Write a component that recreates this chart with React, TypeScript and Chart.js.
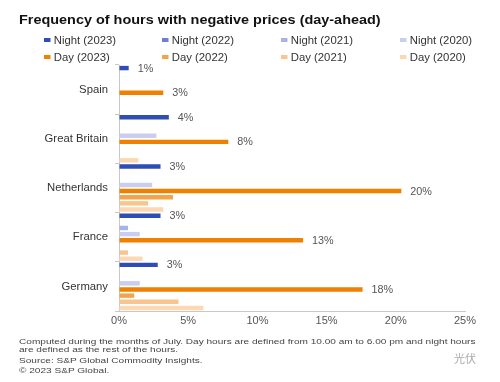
import React, { useEffect, useRef } from "react";
import { Chart, registerables } from "chart.js";

Chart.register(...registerables);

const categories = ["Spain", "Great Britain", "Netherlands", "France", "Germany"];
const seriesNames = [
  "Night (2023)",
  "Night (2022)",
  "Night (2021)",
  "Night (2020)",
  "Day (2023)",
  "Day (2022)",
  "Day (2021)",
  "Day (2020)",
];
const night2023 = [0.7, 3.6, 3.0, 3.0, 2.8];
const night2022 = [null, null, null, null, null];
const night2021 = [null, null, null, 0.65, null];
const night2020 = [null, 2.7, 2.4, 1.5, 1.5];
const day2023 = [3.2, 7.9, 20.4, 13.3, 17.6];
const day2022 = [null, null, 3.9, null, 1.1];
const day2021 = [null, null, 2.1, 0.65, 4.3];
const day2020 = [null, 1.4, 3.2, 1.7, 6.1];
const seriesValues = [night2023, night2022, night2021, night2020, day2023, day2022, day2021, day2020];
const seriesColors = ["#2f4eb5", "#6b80cf", "#a7b3e2", "#c9cdee", "#ef8000", "#f4a34a", "#f8c48f", "#fbd8b2"];
const labeledSeries = [0, 4];
const xMin = 0;
const xMax = 25;
const xStep = 5;

const titleText = "Frequency of hours with negative prices (day-ahead)";
const noteLines = [
  "Computed during the months of July. Day hours are defined from 10.00 am to 6.00 pm and night hours",
  "are defined as the rest of the hours.",
];
const sourceText = "Source: S&P Global Commodity Insights.";
const copyrightText = "© 2023 S&P Global.";
const watermarkText = "光伏";

const FONT = "'Liberation Sans', Arial, sans-serif";

const valueLabelPlugin = {
  id: "valueLabels",
  afterDatasetsDraw(chart: any) {
    const ctx = chart.ctx;
    ctx.save();
    ctx.font = `10.8px ${FONT}`;
    ctx.fillStyle = "#555";
    ctx.textAlign = "left";
    ctx.textBaseline = "middle";
    labeledSeries.forEach((di) => {
      const meta = chart.getDatasetMeta(di);
      const vals = seriesValues[di];
      meta.data.forEach((bar: any, j: number) => {
        const v = vals[j];
        if (v == null) return;
        ctx.fillText(Math.round(v) + "%", bar.x + 9, bar.y + 0.5);
      });
    });
    ctx.restore();
  },
};

export default function App() {
  const ref = useRef<HTMLCanvasElement | null>(null);

  useEffect(() => {
    if (!ref.current) return;
    const chart = new Chart(ref.current, {
      type: "bar",
      data: {
        labels: categories,
        datasets: seriesNames.map((name, i) => ({
          label: name,
          data: seriesValues[i] as any,
          backgroundColor: seriesColors[i],
          borderWidth: 0,
          categoryPercentage: 1.0,
          barPercentage: 0.72,
        })),
      },
      options: {
        indexAxis: "y",
        animation: false,
        responsive: false,
        maintainAspectRatio: false,
        layout: { padding: { top: 65, right: 35, left: 0, bottom: 0 } },
        plugins: {
          legend: { display: false },
          tooltip: { enabled: false },
          title: { display: false },
        },
        scales: {
          x: {
            min: xMin,
            max: xMax,
            ticks: {
              stepSize: xStep,
              callback: (v: any) => v + "%",
              color: "#555",
              font: { family: FONT, size: 11 },
              padding: 3,
            },
            grid: { display: true, drawOnChartArea: false, drawTicks: false, color: "#c8c8c8" },
            border: { display: true, color: "#c8c8c8", width: 1 },
            afterFit: (s: any) => {
              s.height = 71;
            },
          },
          y: {
            ticks: {
              color: "#333",
              font: { family: FONT, size: 11.3 },
              padding: 7,
            },
            grid: {
              display: true,
              drawOnChartArea: false,
              drawTicks: true,
              tickLength: 4,
              color: "#c8c8c8",
              offset: true,
            },
            border: { display: true, color: "#c8c8c8", width: 1 },
            afterFit: (s: any) => {
              s.width = 119;
            },
          },
        },
      },
      plugins: [valueLabelPlugin],
    });
    return () => chart.destroy();
  }, []);

  const legendCols = [44, 162, 281, 400];
  const legendRows = [40, 57];

  const stretch = (k: number): React.CSSProperties => ({
    transform: `scaleX(${k})`,
    transformOrigin: "left center",
  });

  const noteStyle: React.CSSProperties = {
    position: "absolute",
    left: 19,
    fontSize: 8,
    fontFamily: FONT,
    color: "#444",
    lineHeight: "9px",
    whiteSpace: "nowrap",
    ...stretch(1.26),
  };

  return (
    <div
      style={{
        position: "fixed",
        left: 0,
        top: 0,
        width: 500,
        height: 382,
        background: "#fff",
        fontFamily: FONT,
        overflow: "hidden",
      }}
    >
      <canvas ref={ref} width={500} height={382} style={{ position: "absolute", left: 0, top: 0 }} />
      <div
        style={{
          position: "absolute",
          left: 19,
          top: 12,
          fontSize: 13,
          fontWeight: "bold",
          fontFamily: FONT,
          color: "#111",
          whiteSpace: "nowrap",
          lineHeight: "16px",
          ...stretch(1.11),
        }}
      >
        {titleText}
      </div>
      {seriesNames.map((name, i) => (
        <div
          key={name}
          style={{
            position: "absolute",
            left: legendCols[i % 4],
            top: legendRows[Math.floor(i / 4)] - 7,
            height: 14,
            display: "flex",
            alignItems: "center",
            fontSize: 10.5,
            fontFamily: FONT,
            color: "#333",
            whiteSpace: "nowrap",
            ...stretch(1.08),
          }}
        >
          <span
            style={{
              display: "inline-block",
              width: 6,
              height: 4,
              background: seriesColors[i],
              marginRight: 3,
            }}
          />
          {name}
        </div>
      ))}
      <div style={{ ...noteStyle, top: 337 }}>
        <div>{noteLines[0]}</div>
        <div style={{ marginTop: -1 }}>{noteLines[1]}</div>
      </div>
      <div style={{ ...noteStyle, top: 356 }}>{sourceText}</div>
      <div style={{ ...noteStyle, top: 366 }}>{copyrightText}</div>
      <div
        style={{
          position: "absolute",
          left: 454,
          top: 350,
          fontSize: 11,
          color: "#aaa",
          fontFamily: "'Noto Sans CJK SC', sans-serif",
          whiteSpace: "nowrap",
        }}
      >
        {watermarkText}
      </div>
    </div>
  );
}
